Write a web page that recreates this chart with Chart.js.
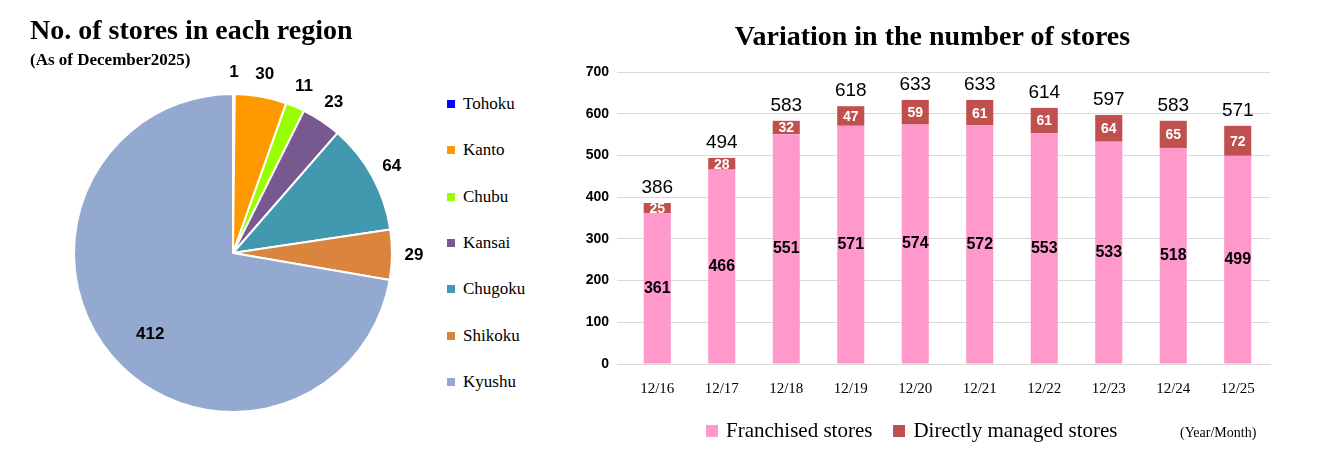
<!DOCTYPE html>
<html><head><meta charset="utf-8">
<script src="https://cdn.jsdelivr.net/npm/chart.js@4"></script>
<style>
body{margin:0;width:1318px;height:469px;background:#fff;position:relative;overflow:hidden;font-family:"Liberation Serif",serif;}
.abs{position:absolute;}
#t1{left:30px;top:14px;font-size:28px;font-weight:bold;}
#t1s{left:30px;top:50px;font-size:17px;font-weight:bold;}
#t2{left:560px;width:745px;text-align:center;top:20px;font-size:28px;font-weight:bold;}
.lg{position:absolute;left:447px;font-size:17px;display:flex;align-items:center;}
.lg span{display:inline-block;width:8px;height:8px;margin-right:8px;}
#bl{left:706px;top:418px;font-size:21px;display:flex;align-items:center;}
#bl span{display:inline-block;width:12px;height:12px;margin:0 8px 0 0;}
#ym{left:1180px;top:425px;font-size:14px;}
</style></head><body>
<canvas id="pie" class="abs" style="left:0;top:0" width="440" height="469"></canvas>
<canvas id="bar" class="abs" style="left:560px;top:0" width="758" height="469"></canvas>
<div id="t1" class="abs">No. of stores in each region</div>
<div id="t1s" class="abs">(As of December2025)</div>
<div id="t2" class="abs">Variation in the number of stores</div>
<div id="legend"></div>
<div id="bl" class="abs"><span style="background:#FF99CC"></span>Franchised stores&nbsp;&nbsp;&nbsp;&nbsp;<span style="background:#C0504D"></span>Directly managed stores</div>
<div id="ym" class="abs">(Year/Month)</div>
<script>
const regions=["Tohoku","Kanto","Chubu","Kansai","Chugoku","Shikoku","Kyushu"];
const regionStores=[1,30,11,23,64,29,412];
const regionColors=["#0000FF","#FF9900","#99FF00","#77598F","#4198AF","#DB843D","#93A9CF"];
const months=["12/16","12/17","12/18","12/19","12/20","12/21","12/22","12/23","12/24","12/25"];
const franchised=[361,466,551,571,574,572,553,533,518,499];
const direct=[25,28,32,47,59,61,61,64,65,72];

const lg=document.getElementById('legend');
regions.forEach((r,i)=>{const d=document.createElement('div');d.className='lg';d.style.top=(94+i*46.3)+'px';d.innerHTML='<span style="background:'+regionColors[i]+'"></span>'+r;lg.appendChild(d);});

const pieLabels={id:'pl',afterDatasetsDraw(c){const ctx=c.ctx;const m=c.getDatasetMeta(0);ctx.save();ctx.font='bold 17px "Liberation Sans",Arial';ctx.fillStyle='#000';ctx.textAlign='center';ctx.textBaseline='middle';
m.data.forEach((a,i)=>{const ang=(a.startAngle+a.endAngle)/2;const big=regionStores[i]>200;const r=big?a.outerRadius*0.68:a.outerRadius+22;ctx.fillText(regionStores[i],a.x+Math.cos(ang)*r,a.y+Math.sin(ang)*r+(big?12:0));});ctx.restore();}};
new Chart(document.getElementById('pie'),{type:'pie',data:{labels:regions,datasets:[{data:regionStores,backgroundColor:regionColors,borderColor:'#fff',borderWidth:2}]},
options:{responsive:false,animation:false,layout:{padding:{left:73,top:93,right:440-393,bottom:469-413}},plugins:{legend:{display:false},tooltip:{enabled:false}}},plugins:[pieLabels]});

const barLabels={id:'bl',afterDatasetsDraw(c){const ctx=c.ctx;ctx.save();ctx.textAlign='center';ctx.textBaseline='middle';
const m0=c.getDatasetMeta(0),m1=c.getDatasetMeta(1);
m0.data.forEach((b,i)=>{ctx.font='bold 16px "Liberation Sans",Arial';ctx.fillStyle='#000';ctx.fillText(franchised[i],b.x,(b.y+b.base)/2);
const d=m1.data[i];ctx.fillStyle='#fff';ctx.font='bold 14px "Liberation Sans",Arial';ctx.fillText(direct[i],d.x,(d.y+d.base)/2+1);
ctx.fillStyle='#000';ctx.font='19px "Liberation Sans",Arial';ctx.fillText(franchised[i]+direct[i],d.x,d.y-15);});ctx.restore();}};
new Chart(document.getElementById('bar'),{type:'bar',data:{labels:months,datasets:[
{label:'Franchised stores',data:franchised,backgroundColor:'#FF99CC',barPercentage:0.42,categoryPercentage:1},
{label:'Directly managed stores',data:direct,backgroundColor:'#C0504D',barPercentage:0.42,categoryPercentage:1}]},
options:{responsive:false,animation:false,layout:{padding:{left:15,top:72,right:48,bottom:0}},
plugins:{legend:{display:false},tooltip:{enabled:false}},
scales:{x:{stacked:true,grid:{display:false},border:{color:'#d9d9d9'},ticks:{color:'#000',padding:8,font:{family:'"Liberation Serif",serif',size:15}},afterFit(s){s.height=105;}},
y:{stacked:true,min:0,max:700,ticks:{stepSize:100,color:'#000',padding:8,font:{family:'"Liberation Sans",Arial',size:14,weight:'bold'}},grid:{color:'#d9d9d9'},border:{display:false},afterFit(s){s.width=50;}}}},plugins:[barLabels]});
</script></body></html>
